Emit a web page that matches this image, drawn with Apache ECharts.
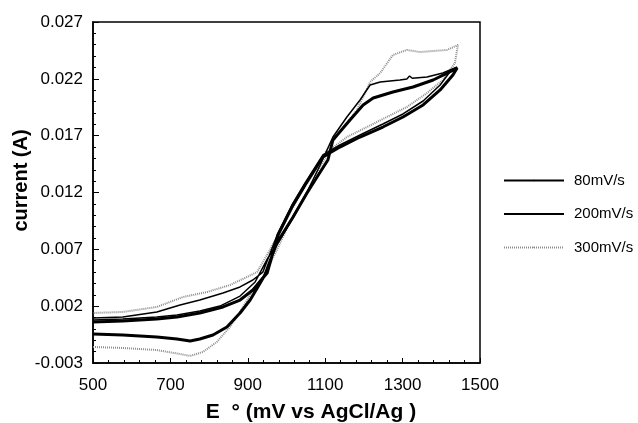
<!DOCTYPE html>
<html>
<head>
<meta charset="utf-8">
<script src="https://cdn.jsdelivr.net/npm/echarts@6/dist/echarts.min.js"></script>
<style>
  html, body { margin: 0; padding: 0; background: #fff; }
  #main { width: 638px; height: 423px; }
</style>
</head>
<body>
<div id="main"></div>
<script>
// cyclic voltammograms, potential (mV) and current (A), one loop each
const e80 = [500, 577, 665, 717, 751, 776, 810, 846, 880, 906, 926, 944, 975, 1017, 1053, 1079, 1107, 1120, 1164, 1198, 1224, 1275, 1327, 1379, 1415, 1441,
  1430, 1397, 1353, 1301, 1249, 1190, 1138, 1094, 1048, 1014, 978, 950, 939, 913, 880, 836, 776, 717, 665, 577, 500];
const i80 = [-0.00045, -0.00054, -0.00071, -0.00089, -0.00107, -0.00089, -0.00054, 0.00017, 0.00140, 0.00254, 0.00369, 0.00474, 0.00756, 0.00984, 0.01196, 0.01336, 0.01486, 0.01662, 0.01838, 0.01970, 0.02031, 0.02084, 0.02128, 0.02190, 0.02251, 0.02295,
  0.02234, 0.02102, 0.01970, 0.01864, 0.01776, 0.01688, 0.01600, 0.01512, 0.01266, 0.01072, 0.00826, 0.00492, 0.00448, 0.00342, 0.00254, 0.00193, 0.00140, 0.00105, 0.00087, 0.00069, 0.00061];

const e200 = [500, 577, 665, 717, 776, 828, 880, 919, 952, 975, 1017, 1053, 1087, 1120, 1156, 1190, 1216, 1242, 1293, 1311, 1318, 1325, 1363, 1404, 1441,
  1422, 1397, 1353, 1301, 1249, 1190, 1138, 1094, 1048, 1014, 978, 939, 913, 880, 836, 776, 725, 665, 577, 500];
const i200 = [0.00079, 0.00087, 0.00105, 0.00122, 0.00157, 0.00201, 0.00289, 0.00413, 0.00624, 0.00738, 0.00976, 0.01204, 0.01442, 0.01688, 0.01864, 0.02014, 0.02146, 0.02172, 0.02190, 0.02199, 0.02225, 0.02205, 0.02216, 0.02251, 0.02304,
  0.02260, 0.02146, 0.02005, 0.01891, 0.01803, 0.01706, 0.01618, 0.01530, 0.01284, 0.01090, 0.00844, 0.00500, 0.00430, 0.00369, 0.00316, 0.00254, 0.00210, 0.00149, 0.00105, 0.00096];

const e300 = [500, 577, 665, 725, 751, 784, 820, 854, 888, 913, 939, 952, 975, 1009, 1048, 1081, 1112, 1156, 1208, 1259, 1311, 1363, 1404, 1435, 1443,
  1415, 1379, 1345, 1311, 1275, 1242, 1216, 1182, 1151, 1112, 1074, 1035, 996, 957, 924, 898, 854, 795, 733, 665, 577, 500];
const i300 = [-0.00159, -0.00168, -0.00186, -0.00221, -0.00238, -0.00203, -0.00115, 0.00017, 0.00193, 0.00342, 0.00457, 0.00536, 0.00694, 0.00940, 0.01178, 0.01380, 0.01574, 0.01688, 0.01776, 0.01864, 0.01952, 0.02075, 0.02190, 0.02339, 0.02498,
  0.02454, 0.02445, 0.02436, 0.02454, 0.02410, 0.02251, 0.02172, 0.01926, 0.01794, 0.01618, 0.01398, 0.01178, 0.00940, 0.00694, 0.00500, 0.00457, 0.00386, 0.00325, 0.00281, 0.00193, 0.00149, 0.00140];

const seriesNames = ['80mV/s', '200mV/s', '300mV/s'];
const xTicks = [500, 700, 900, 1100, 1300, 1500];
const yTicks = [-0.003, 0.002, 0.007, 0.012, 0.017, 0.022, 0.027];

const zip = (xs, ys) => xs.map((x, k) => [x, ys[k]]);
const font = '"Liberation Sans", Arial, sans-serif';

const myChart = echarts.init(document.getElementById('main'));

const option = {
  animation: false,
  backgroundColor: '#fff',
  grid: {
    left: 93, top: 22, right: 158, bottom: 60,
    containLabel: false, outerBoundsMode: 'none',
    show: true, borderColor: '#000', borderWidth: 1.5, backgroundColor: 'transparent'
  },
  legend: {
    orient: 'vertical',
    left: 498, top: 168,
    itemWidth: 60, itemHeight: 2, itemGap: 18.5,
    textStyle: { fontFamily: font, fontSize: 15, color: '#000', padding: [0, 0, 0, 5] },
    data: seriesNames
  },
  xAxis: {
    type: 'value',
    min: xTicks[0], max: xTicks[xTicks.length - 1], interval: 200,
    name: 'E  ° (mV vs AgCl/Ag )',
    nameLocation: 'middle', nameGap: 39, nameMoveOverlap: false,
    nameTextStyle: { fontFamily: font, fontSize: 21, fontWeight: 'bold', color: '#000', padding: [0, 0, 0, 49] },
    axisLine: { onZero: false, lineStyle: { color: '#000', width: 1.5 } },
    axisTick: { inside: true, length: 5, lineStyle: { color: '#000' } },
    minorTick: { show: true, splitNumber: 5, length: 3, lineStyle: { color: '#000' } },
    axisLabel: { fontFamily: font, fontSize: 17, color: '#000', margin: 14,
      formatter: v => String(v) },
    splitLine: { show: false }
  },
  yAxis: {
    type: 'value',
    min: yTicks[0], max: yTicks[yTicks.length - 1], interval: 0.005,
    name: 'current (A)',
    nameLocation: 'middle', nameGap: 62, nameMoveOverlap: false,
    nameTextStyle: { fontFamily: font, fontSize: 20, fontWeight: 'bold', color: '#000', padding: [0, 0, 0, 24] },
    axisLine: { onZero: false, lineStyle: { color: '#000', width: 1.5 } },
    axisTick: { inside: true, length: 6, lineStyle: { color: '#000' } },
    minorTick: { show: true, splitNumber: 5, length: 3, lineStyle: { color: '#000' } },
    axisLabel: { fontFamily: font, fontSize: 17, color: '#000', margin: 10,
      formatter: v => v.toFixed(3) },
    splitLine: { show: false }
  },
  series: [
    {
      name: seriesNames[0], type: 'line', showSymbol: false, symbol: 'none',
      data: zip(e80, i80), z: 3,
      lineStyle: { color: '#000', width: 3 }, itemStyle: { color: '#000' }
    },
    {
      name: seriesNames[1], type: 'line', showSymbol: false, symbol: 'none',
      data: zip(e200, i200), z: 4,
      lineStyle: { color: '#000', width: 1.5 }, itemStyle: { color: '#000' }
    },
    {
      name: seriesNames[2], type: 'line', showSymbol: false, symbol: 'none',
      data: zip(e300, i300), z: 2,
      lineStyle: { color: '#8c8c8c', width: 2, type: [1, 1] }, itemStyle: { color: '#8c8c8c' }
    }
  ]
};

myChart.setOption(option);
</script>
</body>
</html>
